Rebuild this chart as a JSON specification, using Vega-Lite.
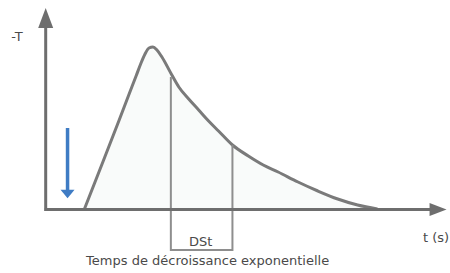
{
  "$schema": "https://vega.github.io/schema/vega-lite/v6.json",
  "width": 450,
  "height": 273,
  "autosize": {"type": "fit", "contains": "padding"},
  "padding": 0,
  "background": "white",
  "config": {"view": {"stroke": null}, "font": "DejaVu Sans"},
  "layer": [
    {
      "data": {"values": [
        {"t": 85, "v": 64}, {"t": 100, "v": 102}, {"t": 120, "v": 153}, {"t": 130, "v": 179},
        {"t": 137, "v": 197}, {"t": 142, "v": 210}, {"t": 146, "v": 219}, {"t": 150, "v": 225},
        {"t": 154, "v": 226}, {"t": 158, "v": 223}, {"t": 163, "v": 216}, {"t": 173, "v": 198},
        {"t": 180, "v": 186}, {"t": 190, "v": 174}, {"t": 200, "v": 163}, {"t": 210, "v": 152},
        {"t": 220, "v": 142}, {"t": 234, "v": 128}, {"t": 250, "v": 117}, {"t": 265, "v": 108},
        {"t": 280, "v": 101}, {"t": 300, "v": 91}, {"t": 320, "v": 82}, {"t": 340, "v": 74},
        {"t": 360, "v": 68}, {"t": 380, "v": 64}
      ]},
      "layer": [
        {
          "mark": {"type": "area", "color": "#f9fbfa", "opacity": 1},
          "encoding": {
            "x": {"field": "t", "type": "quantitative", "scale": {"domain": [0, 450], "nice": false, "zero": false}, "axis": null},
            "y": {"field": "v", "type": "quantitative", "scale": {"domain": [0, 273], "nice": false, "zero": false}, "axis": null},
            "y2": {"datum": 64}
          }
        },
        {
          "mark": {"type": "line", "color": "#7a7a7a", "strokeWidth": 3, "interpolate": "monotone"},
          "encoding": {
            "x": {"field": "t", "type": "quantitative", "scale": {"domain": [0, 450], "nice": false, "zero": false}, "axis": null},
            "y": {"field": "v", "type": "quantitative", "scale": {"domain": [0, 273], "nice": false, "zero": false}, "axis": null}
          }
        }
      ]
    },
    {
      "data": {"values": [
        {"t": 172, "v": 196, "o": 1}, {"t": 172, "v": 23, "o": 2},
        {"t": 234, "v": 23, "o": 3}, {"t": 234, "v": 128, "o": 4}
      ]},
      "mark": {"type": "line", "color": "#8e8e8e", "strokeWidth": 2},
      "encoding": {
        "x": {"field": "t", "type": "quantitative", "scale": {"domain": [0, 450], "nice": false, "zero": false}, "axis": null},
        "y": {"field": "v", "type": "quantitative", "scale": {"domain": [0, 273], "nice": false, "zero": false}, "axis": null},
        "order": {"field": "o"}
      }
    },
    {
      "data": {"values": [
        {"x1": 46, "x2": 46, "y1": 62, "y2": 255},
        {"x1": 45, "x2": 437, "y1": 63.5, "y2": 63.5}
      ]},
      "mark": {"type": "rule", "color": "#6e6e6e", "strokeWidth": 3},
      "encoding": {
        "x": {"field": "x1", "type": "quantitative", "scale": {"domain": [0, 450], "nice": false, "zero": false}, "axis": null},
        "x2": {"field": "x2"},
        "y": {"field": "y1", "type": "quantitative", "scale": {"domain": [0, 273], "nice": false, "zero": false}, "axis": null},
        "y2": {"field": "y2"}
      }
    },
    {
      "data": {"values": [{"x": 46, "y": 255}]},
      "mark": {"type": "point", "filled": true, "color": "#6e6e6e", "opacity": 1, "size": 400, "shape": "M-0.75,1L0,-1L0.75,1Z"},
      "encoding": {
        "x": {"field": "x", "type": "quantitative", "scale": {"domain": [0, 450], "nice": false, "zero": false}, "axis": null},
        "y": {"field": "y", "type": "quantitative", "scale": {"domain": [0, 273], "nice": false, "zero": false}, "axis": null}
      }
    },
    {
      "data": {"values": [{"x": 441, "y": 63.5}]},
      "mark": {"type": "point", "filled": true, "color": "#6e6e6e", "opacity": 1, "size": 289, "shape": "M-1,-0.76L1,0L-1,0.76Z"},
      "encoding": {
        "x": {"field": "x", "type": "quantitative", "scale": {"domain": [0, 450], "nice": false, "zero": false}, "axis": null},
        "y": {"field": "y", "type": "quantitative", "scale": {"domain": [0, 273], "nice": false, "zero": false}, "axis": null}
      }
    },
    {
      "data": {"values": [{"x": 68, "y1": 145, "y2": 82}]},
      "mark": {"type": "rule", "color": "#3f7cc4", "strokeWidth": 3.5},
      "encoding": {
        "x": {"field": "x", "type": "quantitative", "scale": {"domain": [0, 450], "nice": false, "zero": false}, "axis": null},
        "y": {"field": "y1", "type": "quantitative", "scale": {"domain": [0, 273], "nice": false, "zero": false}, "axis": null},
        "y2": {"field": "y2"}
      }
    },
    {
      "data": {"values": [{"x": 68, "y": 79}]},
      "mark": {"type": "point", "filled": true, "color": "#3f7cc4", "opacity": 1, "size": 196, "shape": "M-1,-0.6L1,-0.6L0,0.6Z"},
      "encoding": {
        "x": {"field": "x", "type": "quantitative", "scale": {"domain": [0, 450], "nice": false, "zero": false}, "axis": null},
        "y": {"field": "y", "type": "quantitative", "scale": {"domain": [0, 273], "nice": false, "zero": false}, "axis": null}
      }
    },
    {
      "data": {"values": [
        {"label": "-T", "x": 17, "y": 232},
        {"label": "t (s)", "x": 439, "y": 31},
        {"label": "DSt", "x": 202, "y": 27},
        {"label": "Temps de décroissance exponentielle", "x": 209, "y": 8}
      ]},
      "mark": {"type": "text", "color": "#4a4a4a", "fontSize": 13, "align": "center", "baseline": "alphabetic"},
      "encoding": {
        "x": {"field": "x", "type": "quantitative", "scale": {"domain": [0, 450], "nice": false, "zero": false}, "axis": null},
        "y": {"field": "y", "type": "quantitative", "scale": {"domain": [0, 273], "nice": false, "zero": false}, "axis": null},
        "text": {"field": "label"}
      }
    }
  ]
}
